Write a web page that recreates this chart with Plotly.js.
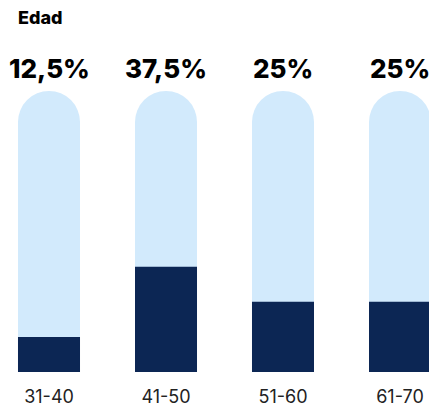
<!DOCTYPE html>
<html>
<head>
<meta charset="utf-8">
<script src="https://cdn.plot.ly/plotly-3.0.1.min.js"></script>
<style>html,body{margin:0;padding:0;background:#fff;}#chart{width:429px;height:408px;}</style>
</head>
<body>
<div id="chart"></div>
<script>
const categories = ["31-40", "41-50", "51-60", "61-70"];
const values = [12.5, 37.5, 25, 25];
const totals = [100, 100, 100, 100];
const valueLabels = values.map(v => String(v).replace(".", ",") + "%");

const idx = categories.map((c, i) => i);
const LIGHT = "#D2EAFC";
const NAVY = "#0C2654";

const data = [
  {
    type: "bar", x: idx, y: totals, width: 0.53,
    marker: {color: LIGHT, cornerradius: "50%", line: {width: 0}},
    hoverinfo: "skip"
  },
  {
    type: "bar", x: idx, y: values, width: 0.53,
    marker: {color: NAVY, cornerradius: 0, line: {width: 0}},
    hoverinfo: "skip"
  }
];

const annotations = idx.map((i) => ({
  x: i, y: 100, xref: "x", yref: "y",
  text: valueLabels[i], showarrow: false,
  xanchor: "center", yanchor: "middle", yshift: 23,
  borderpad: 0,
  font: {family: "Inter", size: 26, weight: 800, color: "#000"}
}));

const layout = {
  width: 429, height: 408,
  margin: {l: 0, r: 0, t: 91, b: 36, pad: 0},
  paper_bgcolor: "#fff", plot_bgcolor: "#fff",
  barmode: "overlay",
  showlegend: false,
  title: {
    text: "Edad",
    x: 18 / 429, xanchor: "left", xref: "paper",
    y: 1 - 18 / 408, yanchor: "middle", yref: "container",
    font: {family: "Inter", size: 18, weight: 800, color: "#000"}
  },
  xaxis: {
    range: [-49 / 117, 380 / 117],
    tickmode: "array", tickvals: idx, ticktext: categories,
    showgrid: false, zeroline: false, showline: false, ticks: "",
    tickfont: {family: "Inter", size: 18, color: "#222"},
    ticklabelstandoff: 12,
    fixedrange: true
  },
  yaxis: {
    range: [0, 100], visible: false, showgrid: false, zeroline: false, fixedrange: true
  },
  annotations: annotations
};

Plotly.newPlot("chart", data, layout, {displayModeBar: false, staticPlot: true});
</script>
</body>
</html>
